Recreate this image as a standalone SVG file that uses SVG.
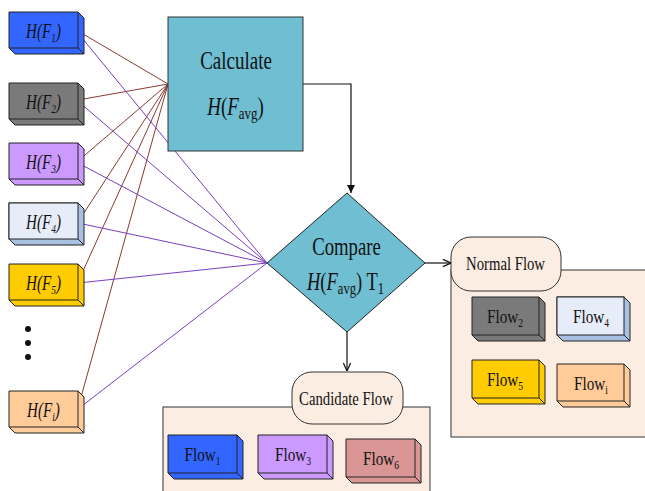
<svg xmlns="http://www.w3.org/2000/svg" width="645" height="491" viewBox="0 0 645 491">
  <defs>
    <style>
      .edge { stroke: #222; stroke-width: 1; stroke-linejoin: miter; }
      .t { font-family: "Liberation Serif", "Times New Roman", serif; fill: #111; text-anchor: middle; }
      .lbl { font-size: 21px; font-style: italic; }
      .flow { font-size: 19px; }
      .big { font-size: 25px; }
      .tag { font-size: 18px; }
      .brown { stroke: #8B3A32; stroke-width: 1; fill: none; }
      .purple { stroke: #7A3FC0; stroke-width: 1; fill: none; }
      .arrow { stroke: #111; stroke-width: 1.2; fill: none; }
      .panel { fill: #FCEDE3; stroke: #333; stroke-width: 1; }
    </style>
    <marker id="head" viewBox="0 0 10 10" refX="10" refY="5" markerWidth="8" markerHeight="8" orient="auto" markerUnits="userSpaceOnUse">
      <path d="M0,0 L10,5 L0,10 z" fill="#111"/>
    </marker>
    <marker id="open" viewBox="0 0 10 10" refX="10" refY="5" markerWidth="9" markerHeight="9" orient="auto" markerUnits="userSpaceOnUse">
      <path d="M1,1 L10,5 L1,9" fill="none" stroke="#111" stroke-width="1.4"/>
    </marker>
  </defs>

  <rect width="645" height="491" fill="#fff"/>

  <!-- panels -->
  <g id="normal-panel">
    <rect class="panel" x="451" y="270" width="210" height="167"/>
    <rect class="panel" x="451" y="237" width="110" height="54" rx="20"/>
    <text class="t tag" transform="translate(505.5,270) scale(0.82,1)">Normal Flow</text>
  </g>
  <g id="candidate-panel">
    <rect class="panel" x="163" y="407" width="267" height="100"/>
    <rect class="panel" x="292" y="372" width="111" height="52" rx="20"/>
    <text class="t tag" transform="translate(346,405) scale(0.82,1)">Candidate Flow</text>
  </g>

  <!-- connectors -->
  <g id="connectors">
    <path class="brown" d="M78,31 L168,84 M78,100 L168,84 M78,161 L168,84 M78,222 L168,84 M78,282 L168,84 M78,408 L168,84"/>
    <path class="purple" d="M82,38 L267,263 M80,103 L267,263 M78,163 L267,263 M78,223 L267,263 M78,283 L267,263 M78,409 L267,263"/>
    <path class="arrow" d="M303,84 L351,84 L351,193" marker-end="url(#head)"/>
    <path class="arrow" d="M425,263 L451,263" marker-end="url(#open)"/>
    <path class="arrow" d="M347,332 L347,371" marker-end="url(#open)"/>
  </g>

  <!-- source entropy boxes -->
  <g id="hf1">
    <path class="edge" fill="#3366FF" d="M9,12 H78 L84,18 V54 H15 L9,48 Z"/>
    <path class="edge" fill="none" d="M9,48 H78 V12 M78,48 L84,54"/>
    <text class="t lbl" transform="translate(43.5,38) scale(0.72,1)">H(F<tspan font-size="13" dy="4">1</tspan><tspan dy="-4">)</tspan></text>
  </g>
  <g id="hf2">
    <path class="edge" fill="#7A7A7A" d="M9,83 H78 L84,89 V125 H15 L9,119 Z"/>
    <path class="edge" fill="none" d="M9,119 H78 V83 M78,119 L84,125"/>
    <text class="t lbl" transform="translate(43.5,109) scale(0.72,1)">H(F<tspan font-size="13" dy="4">2</tspan><tspan dy="-4">)</tspan></text>
  </g>
  <g id="hf3">
    <path class="edge" fill="#CC99FF" d="M9,143 H78 L84,149 V185 H15 L9,179 Z"/>
    <path class="edge" fill="none" d="M9,179 H78 V143 M78,179 L84,185"/>
    <text class="t lbl" transform="translate(43.5,169) scale(0.72,1)">H(F<tspan font-size="13" dy="4">3</tspan><tspan dy="-4">)</tspan></text>
  </g>
  <g id="hf4">
    <path class="edge" fill="#A8C0E2" d="M9,203 H78 L84,209 V245 H15 L9,239 Z"/>
    <rect class="edge" fill="#E6ECF8" x="9" y="203" width="69" height="36"/>
    <path class="edge" fill="none" d="M78,239 L84,245"/>
    <text class="t lbl" transform="translate(43.5,229) scale(0.72,1)">H(F<tspan font-size="13" dy="4">4</tspan><tspan dy="-4">)</tspan></text>
  </g>
  <g id="hf5">
    <path class="edge" fill="#FFCC00" d="M9,264 H78 L84,270 V306 H15 L9,300 Z"/>
    <path class="edge" fill="none" d="M9,300 H78 V264 M78,300 L84,306"/>
    <text class="t lbl" transform="translate(43.5,290) scale(0.72,1)">H(F<tspan font-size="13" dy="4">5</tspan><tspan dy="-4">)</tspan></text>
  </g>
  <g id="ellipsis">
    <circle cx="28" cy="329" r="3" fill="#111"/>
    <circle cx="28" cy="343" r="3" fill="#111"/>
    <circle cx="28" cy="357" r="3" fill="#111"/>
  </g>
  <g id="hfi">
    <path class="edge" fill="#FFCC99" d="M9,391 H78 L84,397 V433 H15 L9,427 Z"/>
    <path class="edge" fill="none" d="M9,427 H78 V391 M78,427 L84,433"/>
    <text class="t lbl" transform="translate(43.5,417) scale(0.72,1)">H(F<tspan font-size="13" dy="4">i</tspan><tspan dy="-4">)</tspan></text>
  </g>

  <!-- processing steps -->
  <g id="calculate">
    <rect x="168" y="17" width="135" height="134" fill="#6FBED2" stroke="#333" stroke-width="1"/>
    <text class="t big" transform="translate(236,69) scale(0.76,1)">Calculate</text>
    <text class="t big" transform="translate(235.5,115) scale(0.76,1)"><tspan font-style="italic">H</tspan>(<tspan font-style="italic">F</tspan><tspan font-size="17" dy="4">avg</tspan><tspan dy="-4">)</tspan></text>
  </g>
  <g id="compare">
    <path d="M347,193 L425,263 L347,332 L267,263 Z" fill="#6FBED2" stroke="#222" stroke-width="1"/>
    <text class="t big" transform="translate(346.5,255) scale(0.75,1)">Compare</text>
    <text class="t big" transform="translate(345.5,290) scale(0.74,1)"><tspan font-style="italic">H</tspan>(<tspan font-style="italic">F</tspan><tspan font-size="17" dy="4">avg</tspan><tspan dy="-4">) T</tspan><tspan font-size="17" dy="4">1</tspan></text>
  </g>

  <!-- normal flows -->
  <g id="flow2">
    <path class="edge" fill="#7A7A7A" d="M472,297 H539 L545,303 V341 H478 L472,335 Z"/>
    <path class="edge" fill="none" d="M472,335 H539 V297 M539,335 L545,341"/>
    <text class="t flow" transform="translate(505,323) scale(0.8,1)">Flow<tspan font-size="12" dy="4">2</tspan></text>
  </g>
  <g id="flow4">
    <path class="edge" fill="#A8C0E2" d="M557,297 H624 L630,303 V341 H563 L557,335 Z"/>
    <rect class="edge" fill="#E6ECF8" x="557" y="297" width="67" height="38"/>
    <path class="edge" fill="none" d="M624,335 L630,341"/>
    <text class="t flow" transform="translate(591,323) scale(0.8,1)">Flow<tspan font-size="12" dy="4">4</tspan></text>
  </g>
  <g id="flow5">
    <path class="edge" fill="#FFCC00" d="M472,360 H539 L545,366 V404 H478 L472,398 Z"/>
    <path class="edge" fill="none" d="M472,398 H539 V360 M539,398 L545,404"/>
    <text class="t flow" transform="translate(505,386) scale(0.8,1)">Flow<tspan font-size="12" dy="4">5</tspan></text>
  </g>
  <g id="flowi">
    <path class="edge" fill="#FFCC99" d="M557,364 H624 L630,370 V407 H563 L557,401 Z"/>
    <path class="edge" fill="none" d="M557,401 H624 V364 M624,401 L630,407"/>
    <text class="t flow" transform="translate(591,390) scale(0.8,1)">Flow<tspan font-size="12" dy="4">i</tspan></text>
  </g>

  <!-- candidate flows -->
  <g id="flow1">
    <path class="edge" fill="#3366FF" d="M168,435 H237 L243,441 V479 H174 L168,473 Z"/>
    <path class="edge" fill="none" d="M168,473 H237 V435 M237,473 L243,479"/>
    <text class="t flow" transform="translate(202.5,461) scale(0.8,1)">Flow<tspan font-size="12" dy="4">1</tspan></text>
  </g>
  <g id="flow3">
    <path class="edge" fill="#CC99FF" d="M258,435 H327 L333,441 V479 H264 L258,473 Z"/>
    <path class="edge" fill="none" d="M258,473 H327 V435 M327,473 L333,479"/>
    <text class="t flow" transform="translate(293,461) scale(0.8,1)">Flow<tspan font-size="12" dy="4">3</tspan></text>
  </g>
  <g id="flow6">
    <path class="edge" fill="#D99694" d="M346,439 H415 L421,445 V483 H352 L346,477 Z"/>
    <path class="edge" fill="none" d="M346,477 H415 V439 M415,477 L421,483"/>
    <text class="t flow" transform="translate(381,465) scale(0.8,1)">Flow<tspan font-size="12" dy="4">6</tspan></text>
  </g>
</svg>
